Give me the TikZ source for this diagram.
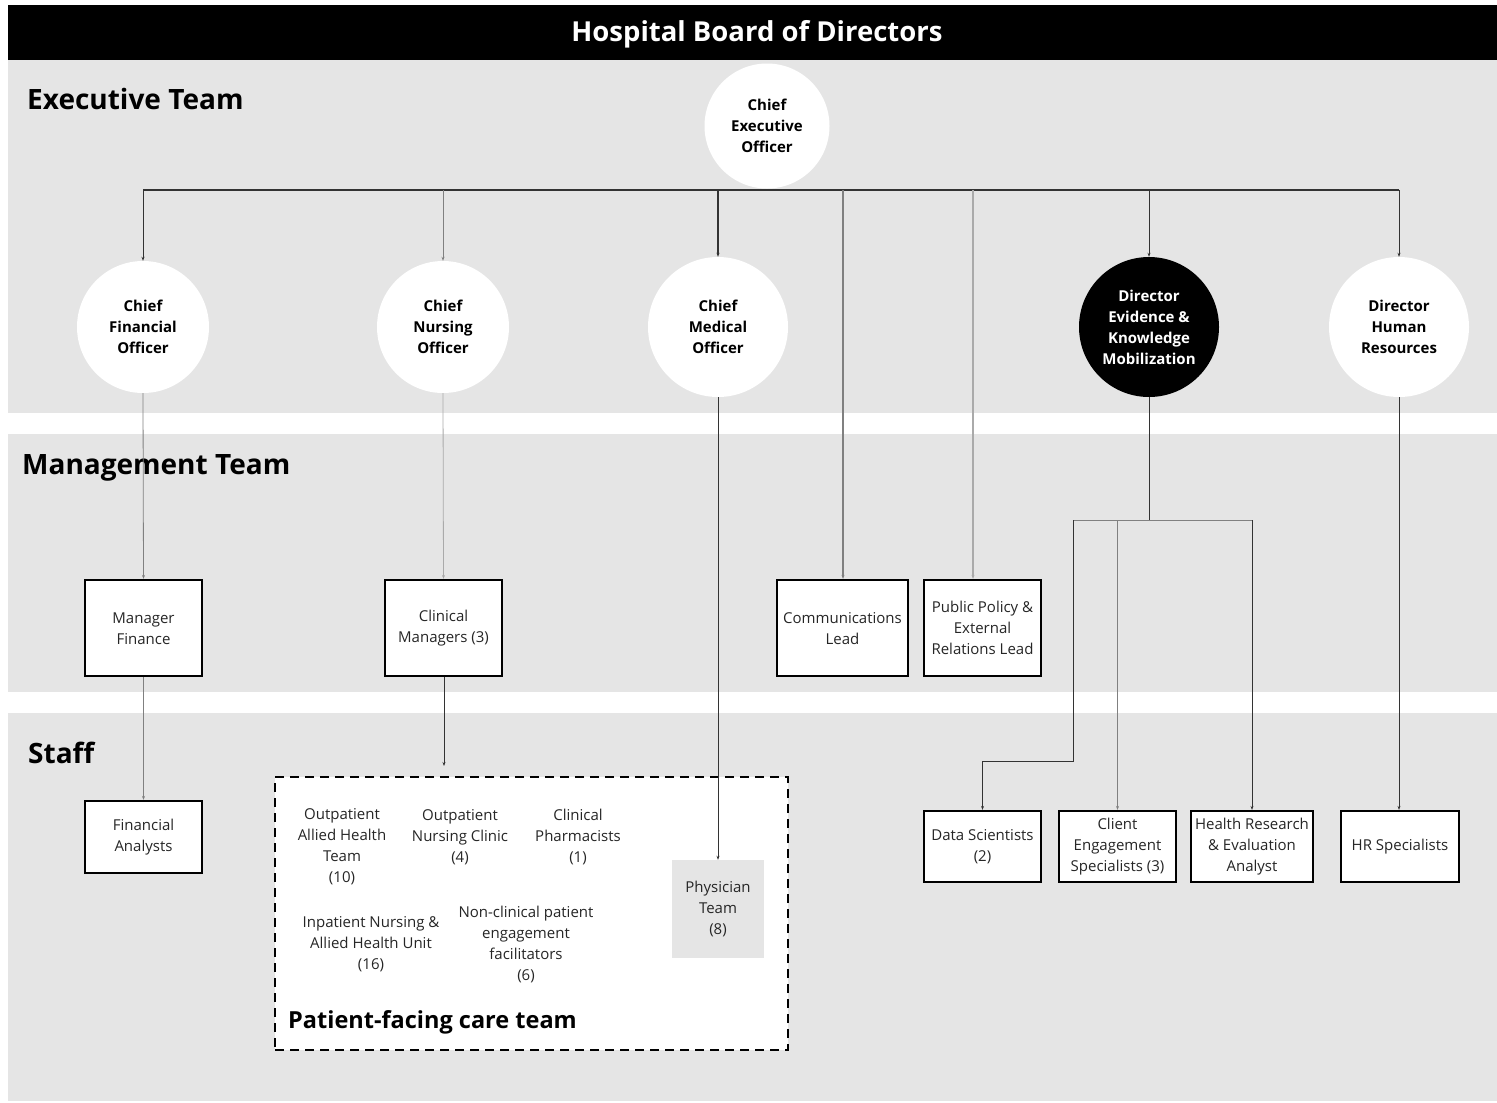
\documentclass[tikz,border=0pt]{standalone}
\usepackage{fontspec}
\setmainfont{Open Sans}
\usetikzlibrary{arrows.meta}
\definecolor{band}{HTML}{E5E5E5}
\definecolor{lineA}{HTML}{333333}
\definecolor{lineB}{HTML}{808080}
\definecolor{lineC}{HTML}{AAAAAA}
\tikzset{
  circ/.style={circle,fill=white,inner sep=0pt,align=center,text=black,font=\fontsize{15}{21}\selectfont\bfseries},
  box/.style={rectangle,draw=black,line width=2.2pt,fill=white,inner sep=0pt,align=center,font=\fontsize{15}{21}\selectfont,text=black!85},
  sect/.style={anchor=west,inner sep=0pt,font=\fontsize{28}{32}\selectfont\bfseries},
  team/.style={inner sep=0pt,align=center,font=\fontsize{15}{21}\selectfont,text=black!85},
  arr/.style={-{Stealth[length=4pt,width=3pt]},line width=0.8pt},
}
\begin{document}
\begin{tikzpicture}[x=1pt,y=-1pt]
\useasboundingbox (0,0) rectangle (1497,1103);
\fill[white] (0,0) rectangle (1497,1103);
% bands
\fill[band] (8,60) rectangle (1497,413);
\fill[band] (8,434) rectangle (1497,692);
\fill[band] (8,713) rectangle (1497,1101);
\fill[black] (8,5) rectangle (1497,60);
\node[inner sep=0pt,text=white,font=\fontsize{27.5}{32}\selectfont\bfseries] (title) at (757,34) {Hospital Board of Directors};
% section labels
\node[sect] (lexec) at (27,99) {Executive Team};
\node[sect] (lman) at (22,468) {Management Team};
\node[sect] (lstaff) at (28,753) {Staff};

% patient-facing box
\node[rectangle,draw=black,fill=white,line width=2.5pt,dash pattern=on 9pt off 6pt,minimum width=513pt,minimum height=273pt,inner sep=0pt] (pfc) at (531.5,913.5) {};
\node[anchor=west,inner sep=0pt,font=\fontsize{23.5}{28}\selectfont\bfseries] (pfclabel) at (288,1022) {Patient-facing care team};
\node[team] (t1) at (342,847) {Outpatient\\Allied Health\\Team\\(10)};
\node[team] (t2) at (460,837) {Outpatient\\Nursing Clinic\\(4)};
\node[team] (t3) at (578,837) {Clinical\\Pharmacists\\(1)};
\node[team] (t4) at (371,944) {Inpatient Nursing \&\\Allied Health Unit\\(16)};
\node[team] (t5) at (526,944) {Non-clinical patient\\engagement\\facilitators\\(6)};
\node[team,fill=band,minimum width=92pt,minimum height=98pt] (phys) at (718,909) {\vphantom{p}\\[-18pt]Physician\\Team\\(8)};

% circles
\node[circ,minimum size=125pt] (ceo) at (767,126) {Chief\\Executive\\Officer};
\node[circ,minimum size=132pt] (cfo) at (143,327) {Chief\\Financial\\Officer};
\node[circ,minimum size=132pt] (cno) at (443,327) {Chief\\Nursing\\Officer};
\node[circ,minimum size=140pt] (cmo) at (718,327) {Chief\\Medical\\Officer};
\node[circ,minimum size=140pt,fill=black,text=white] (ekm) at (1149,327) {Director\\Evidence \&\\Knowledge\\Mobilization};
\node[circ,minimum size=140pt] (hr) at (1399,327) {Director\\Human\\Resources};

% boxes
\node[box,minimum width=117pt,minimum height=96pt] (mf) at (143.5,628) {\vphantom{p}\\[-18pt]Manager\\Finance};
\node[box,minimum width=117pt,minimum height=96pt] (cm) at (443.5,628) {\vphantom{p}\\[-18pt]Clinical\\Managers (3)};
\node[box,minimum width=131pt,minimum height=96pt] (com) at (842.5,628) {\vphantom{p}\\[-18pt]Communications\\Lead};
\node[box,minimum width=117pt,minimum height=96pt] (pp) at (982.5,628) {\vphantom{p}\\[-18pt]Public Policy \&\\External\\Relations Lead};
\node[box,minimum width=117pt,minimum height=72pt] (fa) at (143.5,837) {\vphantom{p}\\[-18pt]Financial\\Analysts};
\node[box,minimum width=117pt,minimum height=71pt] (ds) at (982.5,846.5) {\vphantom{p}\\[-18pt]Data Scientists\\(2)};
\node[box,minimum width=117pt,minimum height=71pt] (ce) at (1117.5,846.5) {\vphantom{p}\\[-18pt]Client\\Engagement\\Specialists (3)};
\node[box,minimum width=122pt,minimum height=71pt] (hre) at (1252,846.5) {\vphantom{p}\\[-18pt]Health Research\\\& Evaluation\\Analyst};
\node[box,minimum width=118pt,minimum height=71pt] (hrs) at (1400,846.5) {\vphantom{p}\\[-18pt]HR Specialists};

% connectors
\coordinate (busL) at (143,190);
\coordinate (busR) at (1399,190);
\coordinate (comtop) at (843,190);
\coordinate (pptop) at (973,190);
\draw[lineA,line width=1.2pt] (busL) -- (busR);
\draw[lineA,arr] (cfo.north |- busL) -- (cfo.north);
\draw[lineB,arr] (cno.north |- busL) -- (cno.north);
\draw[lineA,arr,line width=1.2pt] (cmo.north |- busL) -- (cmo.north);
\draw[lineA,arr] (ekm.north |- busL) -- (ekm.north);
\draw[lineA,arr] (hr.north |- busL) -- (hr.north);
\draw[lineB,arr,line width=1.2pt] (comtop) -- (comtop |- com.north);
\draw[lineC,arr,line width=1.2pt] (pptop) -- (pptop |- pp.north);

\draw[lineB,arr] (cfo.south) -- (mf.north);
\draw[lineB,arr] (mf.south) -- (fa.north);
\draw[lineC,arr] (cno.south) -- (cm.north);
\coordinate (cmend) at (444,766);
\draw[lineA,arr] (cm.south -| cmend) -- (cmend);
\draw[lineA,arr] (cmo.south) -- (phys.north);
\draw[lineA,arr] (hr.south) -- (hrs.north -| hr.south);

\coordinate (ekmj) at (1149,520);
\coordinate (ekmL) at (1073,520);
\coordinate (ekmR) at (1252,520);
\coordinate (dsbend) at (1073,761);
\draw[lineA,line width=1pt] (ekm.south) -- (ekmj);
\draw[lineB,line width=1pt] (ekmL) -- (ekmR);
\draw[lineA,arr] (ekmL) -- (dsbend) -| (ds.north);
\draw[lineB,arr,line width=1.2pt] (ekmL -| ce.north) -- (ce.north);
\draw[lineA,arr] (ekmR) -- (hre.north);
\end{tikzpicture}
\end{document}
